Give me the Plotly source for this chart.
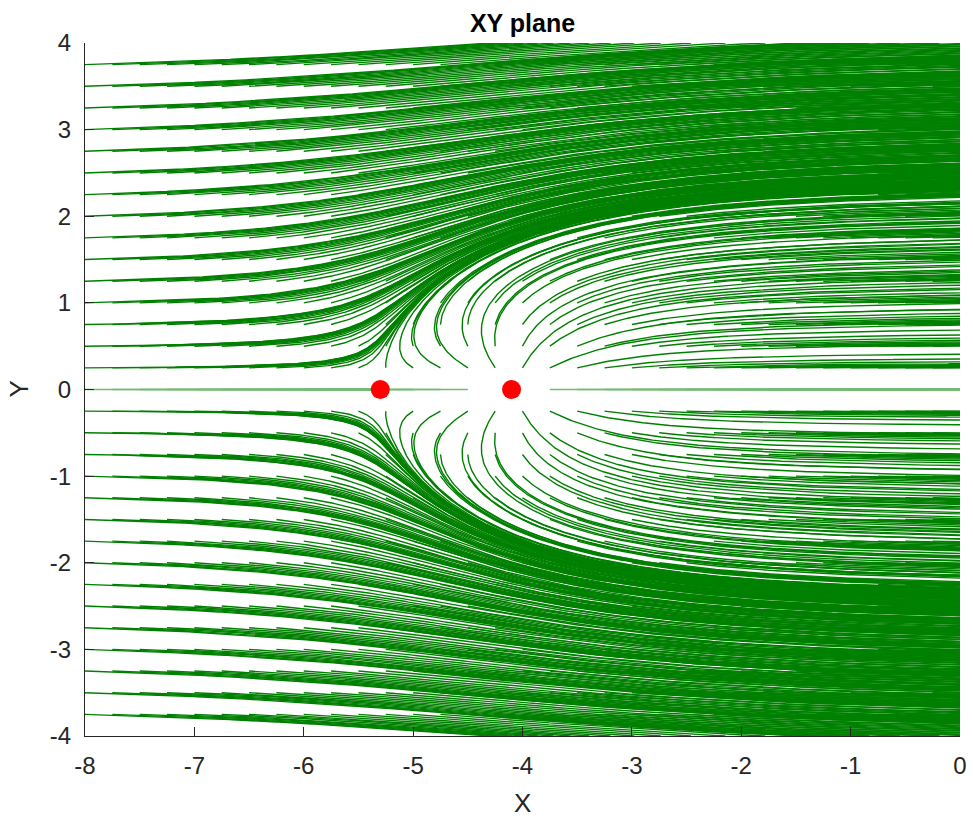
import numpy as np
import plotly.graph_objects as go

# Uniform stream plus a point source (axisymmetric flow), shown in the XY plane
U_INF = 1.0
SOURCE_X, SOURCE_Y = -4.1, 0.0
STAG_X, STAG_Y = -5.3, 0.0
MARK_X = [STAG_X, SOURCE_X]
MARK_Y = [STAG_Y, SOURCE_Y]

# Streamline seed grid
SEED_X = [-8.0, -7.75, -7.5, -7.25, -7.0, -6.75, -6.5, -6.25, -6.0, -5.75, -5.5,
          -5.25, -5.0, -4.75, -4.5, -4.25, -4.0, -3.75, -3.5, -3.25, -3.0, -2.75,
          -2.5, -2.25, -2.0, -1.75, -1.5, -1.25, -1.0, -0.75, -0.5, -0.25, 0.0]
SEED_Y = [-4.0, -3.75, -3.5, -3.25, -3.0, -2.75, -2.5, -2.25, -2.0, -1.75, -1.5,
          -1.25, -1.0, -0.75, -0.5, -0.25, 0.0, 0.25, 0.5, 0.75, 1.0, 1.25, 1.5,
          1.75, 2.0, 2.25, 2.5, 2.75, 3.0, 3.25, 3.5, 3.75, 4.0]

X_RANGE = [-8, 0]
Y_RANGE = [-4, 4]
X_TICKS = [-8, -7, -6, -5, -4, -3, -2, -1, 0]
Y_TICKS = [-4, -3, -2, -1, 0, 1, 2, 3, 4]
X_TICKTEXT = ["-8", "-7", "-6", "-5", "-4", "-3", "-2", "-1", "0"]
Y_TICKTEXT = ["-4", "-3", "-2", "-1", "0", "1", "2", "3", "4"]

# source strength from the stagnation distance: m = U a^2
a = abs(SOURCE_X - STAG_X)
M = U_INF * a * a


def velocity(p):
    dx = p[:, 0] - SOURCE_X
    dy = p[:, 1] - SOURCE_Y
    r3 = (dx * dx + dy * dy) ** 1.5
    return np.stack([U_INF + M * dx / r3, M * dy / r3], axis=1)


def inside(p):
    return ((p[..., 0] >= X_RANGE[0]) & (p[..., 0] <= X_RANGE[1]) &
            (p[..., 1] >= Y_RANGE[0]) & (p[..., 1] <= Y_RANGE[1]))


def clip_to_box(p_in, p_out):
    # point where the segment p_in -> p_out leaves the plotting box
    t = 1.0
    d = p_out - p_in
    for j, (lo, hi) in enumerate((X_RANGE, Y_RANGE)):
        if p_out[j] > hi and d[j] != 0:
            t = min(t, (hi - p_in[j]) / d[j])
        if p_out[j] < lo and d[j] != 0:
            t = min(t, (lo - p_in[j]) / d[j])
    return p_in + t * d


gx, gy = np.meshgrid(SEED_X, SEED_Y)
seeds = np.stack([gx.ravel(), gy.ravel()], axis=1)
dist = np.hypot(seeds[:, 0] - SOURCE_X, seeds[:, 1] - SOURCE_Y)
seeds = seeds[dist > 0.2]

H = 0.025        # arc-length step
DT_MAX = 0.05
N_STEPS = 2600

pos = seeds.astype(float).copy()
n = len(pos)
active = np.ones(n, dtype=bool)
hist = np.full((N_STEPS + 1, n, 2), np.nan, dtype=np.float64)
hist[0] = pos
for k in range(1, N_STEPS + 1):
    idx = np.where(active)[0]
    if idx.size == 0:
        break
    p = pos[idx]
    k1 = velocity(p)
    sp = np.hypot(k1[:, 0], k1[:, 1])
    dt = np.minimum(DT_MAX, H / np.maximum(sp, 1e-12))[:, None]
    k2 = velocity(p + 0.5 * dt * k1)
    k3 = velocity(p + 0.5 * dt * k2)
    k4 = velocity(p + dt * k3)
    newp = p + dt / 6.0 * (k1 + 2 * k2 + 2 * k3 + k4)
    step = np.hypot(*(newp - p).T)
    pos[idx] = newp
    hist[k, idx] = newp
    out = (~inside(newp)) | (step < 1e-5)
    active[idx[out]] = False

# off-axis streamlines and the ones running along the symmetry axis
xs, ys = [], []
ax_x, ax_y = [], []
for i in range(n):
    tr = hist[:, i, :]
    tr = tr[~np.isnan(tr[:, 0])]
    ins = inside(tr)
    m_in = int(np.argmin(ins)) if not ins.all() else len(tr)
    pts = tr[:m_in]
    if m_in < len(tr) and m_in >= 1:
        pts = np.vstack([pts, clip_to_box(tr[m_in - 1], tr[m_in])])
    if len(pts) < 2 or np.hypot(*(pts[-1] - pts[0])) < 1e-3:
        continue
    on_axis = seeds[i, 1] == SOURCE_Y
    bx, by = (ax_x, ax_y) if on_axis else (xs, ys)
    bx.extend(np.round(pts[:, 0], 3).tolist())
    by.extend(np.round(pts[:, 1], 3).tolist())
    bx.append(None)
    by.append(None)

AXIS_COLOR = "#262626"
FONT = "Arial, Liberation Sans, sans-serif"
LINE_GREEN = "rgb(0,128,0)"

fig = go.Figure()
fig.add_trace(go.Scatter(
    x=xs, y=ys, mode="lines",
    line=dict(color=LINE_GREEN, width=1.4),
    hoverinfo="skip", showlegend=False,
))
fig.add_trace(go.Scatter(
    x=ax_x, y=ax_y, mode="lines",
    line=dict(color=LINE_GREEN, width=1.5), opacity=0.55,
    hoverinfo="skip", showlegend=False,
))
fig.add_trace(go.Scatter(
    x=MARK_X, y=MARK_Y, mode="markers",
    marker=dict(color="red", size=19, line=dict(width=0)),
    hoverinfo="skip", showlegend=False,
))

PLOT_L, PLOT_R, PLOT_T, PLOT_B = 85, 960, 43, 736
PW, PH = PLOT_R - PLOT_L, PLOT_B - PLOT_T

fig.update_layout(
    width=973, height=820,
    margin=dict(l=PLOT_L, r=973 - PLOT_R, t=PLOT_T, b=820 - PLOT_B, autoexpand=False),
    paper_bgcolor="white", plot_bgcolor="white",
    font=dict(family=FONT, color=AXIS_COLOR),
    title=dict(text="<b>XY plane</b>", font=dict(size=25, color="black", family=FONT),
               x=0.5, xref="paper", xanchor="center",
               y=1 - 23 / 820, yref="container", yanchor="middle"),
    annotations=[
        dict(text="X", x=0.5, xref="paper", y=-(803 - PLOT_B) / PH, yref="paper",
             showarrow=False, font=dict(size=26, color=AXIS_COLOR, family=FONT),
             xanchor="center", yanchor="middle"),
        dict(text="Y", x=(18 - PLOT_L) / PW, xref="paper", y=0.5, yref="paper",
             showarrow=False, textangle=-90,
             font=dict(size=26, color=AXIS_COLOR, family=FONT),
             xanchor="center", yanchor="middle"),
    ],
)

fig.update_xaxes(
    range=X_RANGE, tickvals=X_TICKS, ticktext=X_TICKTEXT, ticks="inside", ticklen=9,
    tickcolor=AXIS_COLOR, showline=True, linecolor=AXIS_COLOR, linewidth=1,
    showgrid=False, zeroline=False, tickfont=dict(size=24, color=AXIS_COLOR),
    ticklabelstandoff=8, mirror=False, automargin=False,
)
fig.update_yaxes(
    range=Y_RANGE, tickvals=Y_TICKS, ticktext=Y_TICKTEXT, ticks="inside", ticklen=9,
    tickcolor=AXIS_COLOR, showline=True, linecolor=AXIS_COLOR, linewidth=1,
    showgrid=False, zeroline=False, tickfont=dict(size=24, color=AXIS_COLOR),
    ticklabelstandoff=8, mirror=False, automargin=False,
)

fig.write_html("out.html")
